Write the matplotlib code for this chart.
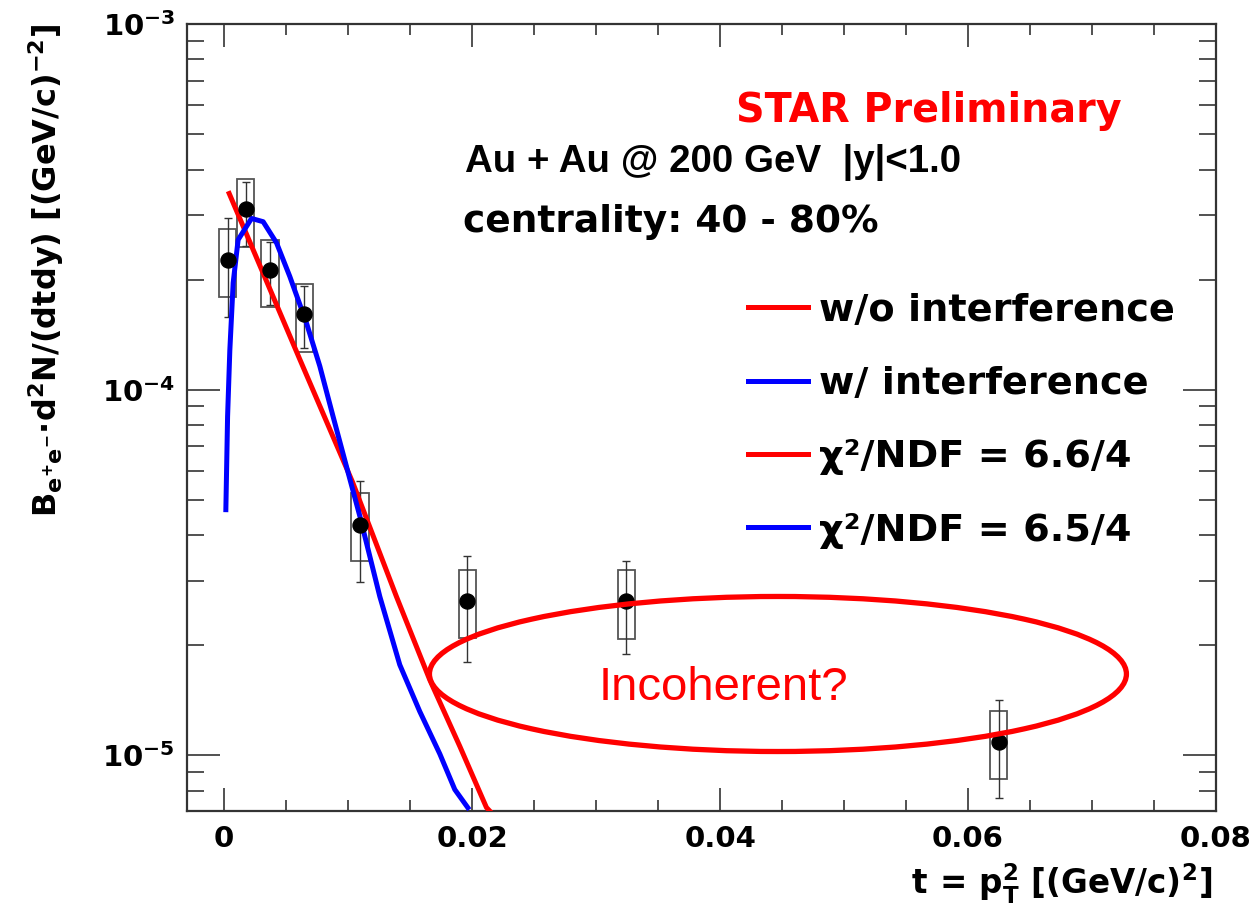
import numpy as np
import matplotlib
matplotlib.use('Agg')
import matplotlib.pyplot as plt
from matplotlib.patches import Rectangle, Ellipse
from matplotlib.ticker import MultipleLocator, LogLocator, FuncFormatter, NullFormatter

plt.rcParams['font.family'] = 'DejaVu Sans'
plt.rcParams['font.weight'] = 'bold'
plt.rcParams['mathtext.fontset'] = 'dejavusans'

# measured J/psi yield vs t, stat. errors and sys. boxes
t_pts = [0.00027, 0.00172, 0.00368, 0.00645, 0.01094, 0.01962, 0.03244, 0.06247]
y_pts = [2.26e-4, 3.12e-4, 2.13e-4, 1.61e-4, 4.28e-5, 2.65e-5, 2.65e-5, 1.09e-5]
stat_lo = [1.585e-4, 2.47e-4, 1.71e-4, 1.30e-4, 2.99e-5, 1.80e-5, 1.89e-5, 7.65e-6]
stat_hi = [2.94e-4, 3.70e-4, 2.53e-4, 1.92e-4, 5.62e-5, 3.52e-5, 3.41e-5, 1.42e-5]
sys_lo = [1.79e-4, 2.45e-4, 1.68e-4, 1.27e-4, 3.41e-5, 2.09e-5, 2.08e-5, 8.63e-6]
sys_hi = [2.75e-4, 3.77e-4, 2.57e-4, 1.95e-4, 5.22e-5, 3.21e-5, 3.21e-5, 1.32e-5]

# model without interference
t_noint = [0.0004, 0.0061, 0.01037, 0.01389, 0.01658, 0.0190, 0.02115, 0.0222]
y_noint = [3.44e-4, 1.21e-4, 5.57e-5, 2.72e-5, 1.61e-5, 1.06e-5, 7.21e-6, 6.6e-6]

# model with interference
t_int = [0.00013, 0.00027, 0.00045, 0.00072, 0.00112, 0.0022, 0.00314, 0.00422,
         0.00529, 0.00664, 0.00771, 0.00878, 0.00986, 0.01094, 0.01255, 0.01416,
         0.01577, 0.01739, 0.0186, 0.01965]
y_int = [4.70e-5, 8.45e-5, 1.28e-4, 1.96e-4, 2.57e-4, 2.94e-4, 2.88e-4, 2.52e-4,
         2.04e-4, 1.52e-4, 1.16e-4, 8.45e-5, 6.17e-5, 4.51e-5, 2.72e-5, 1.77e-5,
         1.32e-5, 1.01e-5, 8.07e-6, 7.2e-6]

legend_labels = ['w/o interference', 'w/ interference',
                 'χ²/NDF = 6.6/4', 'χ²/NDF = 6.5/4']

fig = plt.figure(figsize=(12.52, 9.09), dpi=100)
ax = fig.add_axes([0.1494, 0.1078, 0.8218, 0.8658])
ax.set_yscale('log')
ax.set_xlim(-0.003, 0.08)
ax.set_ylim(7.05e-6, 1e-3)

# systematic boxes
box_w = 0.0014
for t, lo, hi in zip(t_pts, sys_lo, sys_hi):
    ax.add_patch(Rectangle((t - box_w / 2, lo), box_w, hi - lo, fill=False,
                           ec='#555555', lw=1.3, zorder=2))

y_arr = np.array(y_pts)
yerr = [y_arr - np.array(stat_lo), np.array(stat_hi) - y_arr]
ax.errorbar(t_pts, y_pts, yerr=yerr, fmt='none', ecolor='#333333',
            elinewidth=1.0, capsize=3, capthick=1.0, zorder=3)

l_red, = ax.plot(t_noint, y_noint, color='#ff0000', lw=3.6, zorder=4)
l_blue, = ax.plot(t_int, y_int, color='#0000ff', lw=3.6, zorder=4)
ax.plot(t_pts, y_pts, 'o', color='black', ms=10.8, zorder=5)

# axes / ticks
ax.xaxis.set_major_locator(MultipleLocator(0.02))
ax.xaxis.set_minor_locator(MultipleLocator(0.005))
ax.xaxis.set_major_formatter(FuncFormatter(lambda v, p: '0' if abs(v) < 1e-9 else '%.2f' % v))
ax.yaxis.set_major_locator(LogLocator(base=10, numticks=10))
ax.yaxis.set_minor_locator(LogLocator(base=10, subs=np.arange(2, 10), numticks=20))
ax.yaxis.set_minor_formatter(NullFormatter())
ax.yaxis.set_major_formatter(FuncFormatter(lambda v, p: r'$\mathbf{10^{%d}}$' % round(np.log10(v))))

ax.tick_params(which='both', direction='in', top=True, right=True, color='#333333')
ax.tick_params(axis='x', which='major', length=16.3, width=1.2, labelsize=21, pad=10)
ax.tick_params(axis='x', which='minor', length=8, width=1.2)
ax.tick_params(axis='y', which='major', length=24, width=1.2, labelsize=21, pad=8.6)
ax.tick_params(axis='y', which='minor', length=12, width=1.2)
for s in ax.spines.values():
    s.set_linewidth(1.6)
    s.set_color('#333333')

ax.set_xlabel(r'$\mathbf{t\,=\,p_{T}^{2}\ [(GeV/c)^{2}]}$', fontsize=23.5, loc='right')
ax.xaxis.set_label_coords(0.996, -0.064)
ax.xaxis.label.set_va('top')
ax.set_ylabel(r'$\mathbf{B_{e^{+}e^{-}}{\cdot}d^{2}N/(dtdy)\ [(GeV/c)^{-2}]}$', fontsize=23, loc='top')
ax.yaxis.set_label_coords(-0.1176, 1.0)

# annotations
ax.text(0.5335, 0.8755, 'STAR Preliminary', transform=ax.transAxes, color='#ff0000',
        fontsize=28.5, fontweight='bold', ha='left', va='baseline')
ax.text(0.2702, 0.8123, 'Au + Au @ 200 GeV  |y|<1.0', transform=ax.transAxes,
        fontsize=27.7, fontweight='bold', family='Liberation Sans', ha='left', va='baseline')
ax.text(0.2680, 0.7357, 'centrality: 40 - 80%', transform=ax.transAxes,
        fontsize=27, fontweight='bold', ha='left', va='baseline')

ax.legend([l_red, l_blue, l_red, l_blue], legend_labels, loc='upper left',
          bbox_to_anchor=(0.5452, 0.6586), frameon=False, fontsize=27.5,
          handlelength=1.57, handletextpad=0.28, labelspacing=0.976,
          borderpad=0, borderaxespad=0)

ax.add_patch(Ellipse((0.5743, 0.1741), 0.6774, 0.197, transform=ax.transAxes,
                     fill=False, ec='#ff0000', lw=3.8, zorder=6, clip_on=False))
ax.text(0.4004, 0.1410, 'Incoherent?', transform=ax.transAxes, color='#ff0000',
        fontsize=34, fontweight='normal', family='Liberation Sans', ha='left', va='baseline', zorder=7)

fig.savefig('out.png', dpi=100)
